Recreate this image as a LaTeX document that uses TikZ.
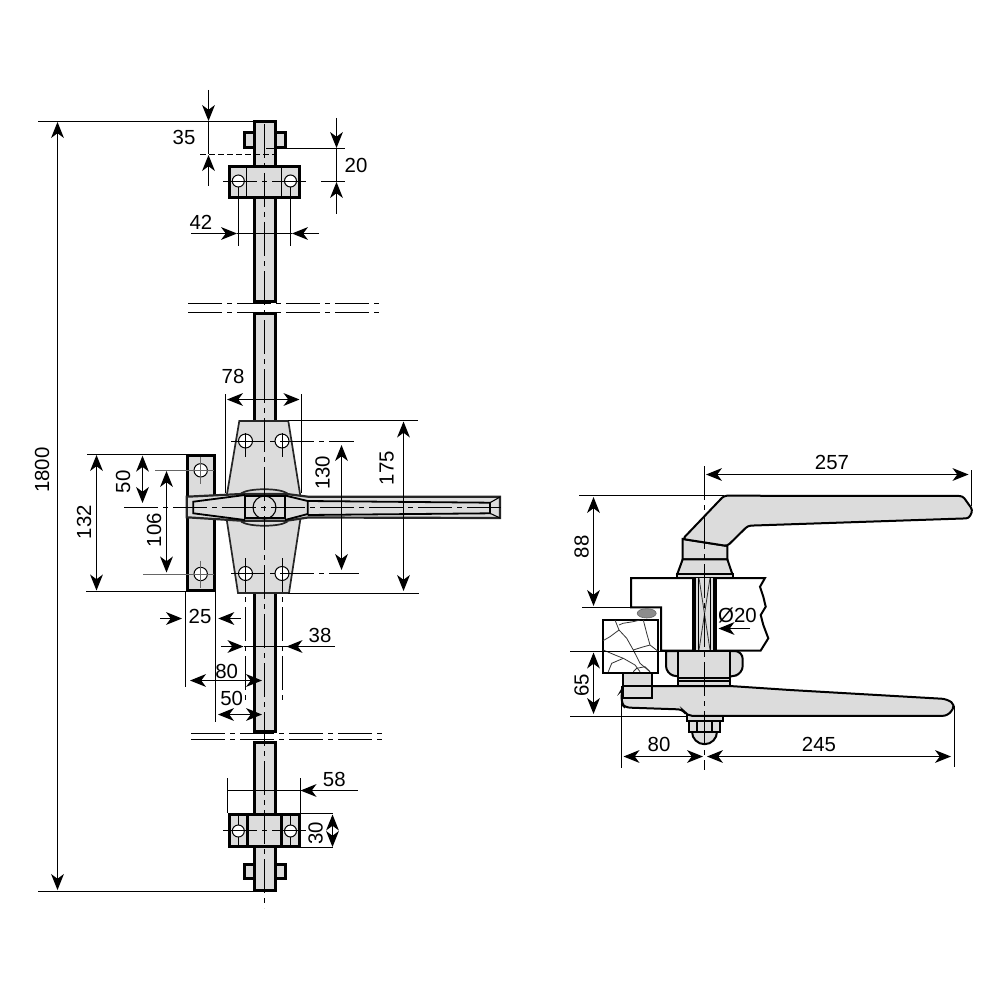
\documentclass[tikz,border=0pt]{standalone}
\usepackage{fontspec}
\setmainfont{Liberation Sans}
\usetikzlibrary{arrows.meta,positioning}
\definecolor{partgray}{HTML}{DCDCDC}
\tikzset{
    >={Stealth[length=8pt,width=6.4pt,inset=2.4pt]},
    part/.style={
           draw=black,
           fill=partgray,
           line width=1.5pt},
    partthin/.style={
           draw=black,
           fill=partgray,
           line width=1pt},
    plate/.style={
           draw=black!85,
           fill=partgray,
           line width=0.85pt},
    fine/.style={
           draw=black,
           line width=0.55pt},
    hole/.style={
           draw=black,
           fill=white,
           line width=0.5pt},
    ghost/.style={
           draw=black!60,
           line width=0.55pt},
    dimline/.style={
           draw=black,
           line width=0.55pt},
    axis/.style={
           draw=black,
           line width=0.5pt,
           dash pattern=on 17pt off 2.5pt on 2.5pt off 2.5pt},
    crack/.style={
           draw=black!80,
           line width=0.4pt},
    val/.style={
           inner sep=0pt,
           font=\fontsize{10.2}{12}\selectfont},
    valup/.style={
           val,
           rotate=90}
}

\begin{document}
\begin{tikzpicture}[x=0.5pt,y=-0.5pt]
        \useasboundingbox (0,0) rectangle (1000,1000);

        % left view, rod and clamps
        \draw[part] (244,133) rectangle (285.5,148);
        \draw[part] (244,864) rectangle (285.5,878);
        \draw[part] (254,122) rectangle (275.5,301);
        \draw[part] (254,313) rectangle (275.5,425);
        \draw[part] (254,590) rectangle (275.5,731);
        \draw[part] (254,742) rectangle (275.5,890);
        \draw[part] (229,166.3) rectangle (299,198);
        \draw[fine] (246.7,166) -- (246.7,198);
        \draw[fine] (281.7,166) -- (281.7,198);
        \draw[part] (229.5,814) rectangle (299,846);
        \draw[part] (247.5,814) -- (247.5,846);
        \draw[part] (281,814) -- (281,846);
        \draw[fine] (238.5,814) -- (238.5,846);
        \draw[fine] (290.7,814) -- (290.7,846);
        \draw[part] (187.3,455.3) rectangle (214.7,590.5);

        % plate and handle
        \draw[plate] (239.3,421) -- (288.3,421) -- (301,500) -- (301,515) -- (289,593) -- (238,593) -- (226,515) -- (226,500) -- cycle;
        \draw[plate] (241.7,493) .. controls (250,488) and (279,488) .. (286.7,493) -- (286.7,522) .. controls (279,527) and (250,527) .. (241.7,522) -- cycle;
        \draw[plate,line width=1.1pt] (186.7,496.7) -- (241.7,494) -- (286.7,494) -- (308,496.7) -- (500,496.7) -- (500,518) -- (308,517.5) -- (286.7,520.7) -- (241.7,520.7) -- (186.7,517.3) -- cycle;
        \draw[fine,line width=0.9pt] (245,495) -- (193.3,501.7) -- (193.3,513.3) -- (245,520);
        \draw[fine,line width=0.9pt] (285,495.5) -- (307.7,501) -- (307.7,514) -- (285,520);
        \draw[fine,line width=0.9pt] (307.7,501) -- (490,502.7) -- (490,513.3) -- (307.7,515);
        \draw[fine] (490,502.7) -- (500,497);
        \draw[fine] (490,513.3) -- (500,518);
        \draw[draw=black,line width=1.1pt] (245,496) rectangle (285,518.3);
        \draw[fine] (264.5,507.5) circle (11.5);

        % holes
        \foreach \hx/\hy in {245.5/441,282/441,245.5/573.5,282/573.5} {
            \draw[hole] (\hx,\hy) circle (7);
        }
        \foreach \hx/\hy in {200.7/470.3,200.7/574} {
            \draw[hole] (\hx,\hy) circle (6.7);
            \draw[ghost] (\hx,\hy-13.5) -- (\hx,\hy+14);
        }
        \foreach \hx/\hy in {238.3/181,290.5/181,238.3/831,290.5/831} {
            \draw[hole] (\hx,\hy) circle (6);
        }
        \foreach \hx in {245.5,282.5} {
            \draw[fine] (\hx,433) -- (\hx,457);
            \draw[axis] (\hx,558) -- (\hx,703);
        }

        % centre lines
        \draw[axis] (264.5,124) -- (264.5,908);
        \draw[axis] (124,507.5) -- (503,507.5);
        \draw[axis] (188,303.5) -- (382,303.5);
        \draw[axis] (188,312.5) -- (382,312.5);
        \draw[axis] (191,733.5) -- (385,733.5);
        \draw[axis] (191,739.5) -- (385,739.5);
        \draw[axis] (231,441.5) -- (354,441.5);
        \draw[axis] (231,573.5) -- (359,573.5);
        \draw[axis] (223,181.5) -- (310,181.5);
        \draw[axis] (223,830.5) -- (310,830.5);
        \draw[ghost] (155,470.5) -- (214,470.5);
        \draw[ghost] (143,574.5) -- (214,574.5);

        % dimensions, rod
        \node[val] (v35) at (184,137.5) {35};
        \draw[dimline] (38,121.5) -- (253,121.5);
        \draw[dimline,dash pattern=on 3pt off 1.5pt] (200,154.5) -- (275,154.5);
        \draw[dimline,->] (208.5,90) -- (208.5,121);
        \draw[dimline] (208.5,121) -- (208.5,154);
        \draw[dimline,->] (208.5,186) -- (208.5,155);

        \node[val] (v20) at (356,165) {20};
        \draw[dimline] (266,148.5) -- (345,148.5);
        \draw[dimline] (321,181.5) -- (345,181.5);
        \draw[dimline,->] (336.5,118) -- (336.5,148);
        \draw[dimline] (336.5,148) -- (336.5,181);
        \draw[dimline,->] (336.5,214) -- (336.5,182);

        \node[val] (v42) at (201,222.7) {42};
        \draw[dimline] (238.5,187) -- (238.5,246);
        \draw[dimline] (290.5,187) -- (290.5,246);
        \draw[dimline,->] (191,233.5) -- (237,233.5);
        \draw[dimline] (237,233.5) -- (292,233.5);
        \draw[dimline,->] (319,233.5) -- (292,233.5);

        \node[valup] (v1800) at (42,470) {1800};
        \draw[dimline] (38,891.5) -- (253,891.5);
        \draw[dimline,<->] (57.5,122) -- (57.5,890);

        % dimensions, plate
        \node[val] (v78) at (233,376.5) {78};
        \draw[dimline] (225.5,394) -- (225.5,493);
        \draw[dimline] (301.5,394) -- (301.5,493);
        \draw[dimline,<->] (227,399.5) -- (299.5,399.5);

        \node[valup] (v175) at (386.7,468.3) {175};
        \draw[dimline] (288,420.5) -- (418,420.5);
        \draw[dimline] (288,593.5) -- (419,593.5);
        \draw[dimline,<->] (403.5,421.5) -- (403.5,591);

        \node[valup] (v130) at (322.7,472.7) {130};
        \draw[dimline,<->] (341.5,445) -- (341.5,570);

        \node[valup] (v132) at (84,522) {132};
        \draw[dimline] (87,454.5) -- (186,454.5);
        \draw[dimline] (86,591.5) -- (186,591.5);
        \draw[dimline,<->] (96.5,455) -- (96.5,590.5);

        \node[valup] (v50a) at (123,481.7) {50};
        \draw[dimline,<->] (142.5,455.7) -- (142.5,503);

        \node[valup] (v106) at (154,530) {106};
        \draw[dimline,<->] (166.5,471) -- (166.5,572.5);

        \node[val] (v25) at (200,616) {25};
        \draw[dimline] (185.5,592) -- (185.5,687);
        \draw[dimline] (215.5,592) -- (215.5,722);
        \draw[dimline,->] (160,618.5) -- (182,618.5);
        \draw[dimline,->] (240.7,618.5) -- (218.3,618.5);

        \node[val] (v38) at (320,635) {38};
        \draw[dimline,->] (221,646.5) -- (243.5,646.5);
        \draw[dimline] (243.5,646.5) -- (286.5,646.5);
        \draw[dimline,->] (335,646.5) -- (286.5,646.5);

        \node[val] (v80a) at (226.7,671) {80};
        \draw[dimline,<->] (190,680.5) -- (262,680.5);

        \node[val] (v50b) at (231.7,698.3) {50};
        \draw[dimline,<->] (218,714.5) -- (262,714.5);

        \node[val] (v58) at (334.3,779) {58};
        \draw[dimline] (227.5,778) -- (227.5,813);
        \draw[dimline] (300.5,778) -- (300.5,813);
        \draw[dimline] (227.5,790.5) -- (300.5,790.5);
        \draw[dimline,->] (357.7,790.5) -- (300.5,790.5);

        \node[valup] (v30) at (315.7,833.3) {30};
        \draw[dimline] (300,813.5) -- (333.3,813.5);
        \draw[dimline] (300,847.5) -- (333.3,847.5);
        \draw[dimline,->] (332.5,831) -- (332.5,814.5);
        \draw[dimline,->] (332.5,831) -- (332.5,847);

        % right view, upper handle
        \draw[partthin] (682.7,539) -- (682.7,559.3) -- (727.3,559.3) -- (727.3,546) -- cycle;
        \draw[partthin] (682.7,559.3) -- (677.3,574) -- (732.3,574) -- (727.3,559.3) -- cycle;
        \draw[partthin] (677,574) rectangle (733,577.5);
        \draw[partthin,rounded corners=1.5pt] (682.7,539) -- (724,495.7) -- (962.7,496) -- (972.7,510) -- (969,518.3) -- (748,525.7) -- (727.3,546) -- cycle;

        % door and spindle
        \draw[partthin,fill=white] (631,578) -- (765,578) -- (760,586.7) -- (763.3,596.7) -- (765.7,606.7) -- (760.7,615) -- (763.3,625) -- (768.3,638.3) -- (760.7,650.5) -- (661,650.5) -- (661,607.3) -- (631,607.3) -- cycle;
        \draw[fill=partgray,draw=none] (692.3,578) rectangle (717,650.5);
        \draw[draw=black,line width=1.75pt] (694.2,578) -- (694.2,650.5);
        \draw[draw=black,line width=2.2pt] (714.8,578) -- (714.8,650.5);
        \draw[fine,line width=0.5pt] (698.3,578) -- (698.3,650.5);
        \draw[fine,line width=0.5pt] (710.7,578) -- (710.7,650.5);
        \draw[crack] (699,578) -- (710,650);
        \draw[crack] (710,578) -- (699,650);
        \draw[fill=black!45,draw=black!60,line width=0.3pt] (646.7,613.3) ellipse [x radius=9.5, y radius=4.7];

        % stone
        \draw[partthin,fill=white,line width=1.2pt] (603,619.7) rectangle (657.7,672.7);
        \draw[crack] (615,620) -- (619,630) -- (626.7,638.3) -- (633.3,650) -- (640,663.3) -- (650,671.7);
        \draw[crack] (619,630) -- (610,636.7) -- (603,640.7);
        \draw[crack] (619,625) -- (623,623.3) -- (633,621.7) -- (640,620);
        \draw[crack] (643.3,620) -- (646.7,633.3) -- (650,645) -- (657.7,651);
        \draw[crack] (603.3,650) -- (615,655) -- (623.3,658.3) -- (635,665) -- (640,671.7);
        \draw[crack] (633.3,650) -- (641.7,647.3) -- (650,645);
        \draw[crack] (623.3,658.3) -- (611.7,663.3) -- (608.3,671.7);
        \draw[crack] (633.3,671.7) -- (636.7,668.3) -- (645,666.7) -- (650,671.7);

        % nut and lower lever
        \draw[partthin] (666,651) {[rounded corners=4pt] -- (666,674) -- (680,677) -- (704.5,679) -- (729,677) -- (742.7,674) -- (742.7,651)} -- cycle;
        \draw[partthin] (677.7,651) rectangle (730,685.5);
        \draw[fine] (677.7,678) -- (730,678);
        \draw[fine] (677.7,681) -- (730,681);
        \draw[partthin] (686.7,714) rectangle (722.7,720.5);
        \draw[partthin] (692,731.7) arc[start angle=180, end angle=0, radius=12.5] -- cycle;
        \draw[partthin] (689,720.5) rectangle (720,731.7);
        \draw[fine] (697,720.5) -- (697,731.7);
        \draw[fine] (712,720.5) -- (712,731.7);
        \draw[partthin,rounded corners=2.5pt] (621.7,690) -- (624,686) -- (730,686) -- (790,690) -- (946.7,699) -- (955.5,705) -- (948,715.8) -- (687,715.8) -- (683,709.5) -- (625,707.5) -- (621.7,704) -- cycle;
        \draw[partthin] (623,673) rectangle (652,697.5);
        \draw[draw=black,line width=1pt] (623,686.3) -- (652,686.3);
        \draw[draw=black,line width=1pt] (621.7,686.3) -- (621.7,704);

        % right view, centre line and dimensions
        \draw[axis] (704.5,466) -- (704.5,770);

        \node[val] (v257) at (832,462) {257};
        \draw[dimline] (971.5,470) -- (971.5,506);
        \draw[dimline,<->] (706,474.5) -- (968.5,474.5);

        \node[valup] (v88) at (581.7,546.7) {88};
        \draw[dimline] (579,495.5) -- (724,495.5);
        \draw[dimline] (582,607.5) -- (631,607.5);
        \draw[dimline,<->] (593.5,497) -- (593.5,606);

        \node[valup] (v65) at (581.7,685) {65};
        \draw[dimline] (570,651.5) -- (666,651.5);
        \draw[dimline] (570,716.5) -- (687,716.5);
        \draw[dimline,<->] (593.5,652.5) -- (593.5,714);

        \node[val] (vd20) at (737.5,615) {Ø20};
        \draw[dimline,->] (750,628.5) -- (718.5,628.5);

        \node[val] (v80b) at (659,744.3) {80};
        \draw[dimline] (621.5,690) -- (621.5,768);
        \draw[dimline,<->] (623.5,756.5) -- (703,756.5);

        \node[val] (v245) at (819,744) {245};
        \draw[dimline] (954.5,706) -- (954.5,767);
        \draw[dimline,<->] (707,756.5) -- (951,756.5);
    \end{tikzpicture}
\end{document}
